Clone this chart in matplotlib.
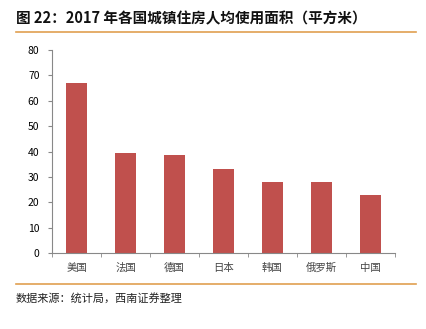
import numpy as np
import matplotlib.pyplot as plt
from matplotlib.lines import Line2D

plt.rcParams['font.family'] = ['Noto Sans CJK SC', 'DejaVu Sans']

countries = ['美国', '法国', '德国', '日本', '韩国', '俄罗斯', '中国']
area = [67, 39.5, 38.5, 33, 28, 27.8, 23]
yticks = [0, 10, 20, 30, 40, 50, 60, 70, 80]

fig = plt.figure(figsize=(4.26, 3.29), dpi=100)
ax = fig.add_axes([52 / 426, 1 - 253 / 329, 343 / 426, 203 / 329])

x = np.arange(len(countries))
ax.bar(x, area, width=0.42, color='#C0504D', zorder=2)

ax.set_xlim(-0.5, len(countries) - 0.5)
ax.set_ylim(0, 80)
ax.set_yticks(yticks)
ax.tick_params(axis='y', labelsize=7.5, length=3, color='#888888', pad=6)
ax.set_xticks(x)
ax.set_xticklabels(countries, fontsize=7.5, color='#444444')
ax.tick_params(axis='x', length=0, pad=7)
ax.set_xticks(np.arange(-0.5, len(countries)), minor=True)
ax.tick_params(axis='x', which='minor', length=3, color='#888888')

for s in ['top', 'right']:
    ax.spines[s].set_visible(False)
for s in ['left', 'bottom']:
    ax.spines[s].set_color('#888888')
    ax.spines[s].set_linewidth(0.8)

# header and footer
fig.text(16 / 426, 1 - 18 / 329, '图 22：2017 年各国城镇住房人均使用面积（平方米）',
         fontsize=10.5, fontweight='bold', va='center', color='#111111')
fig.add_artist(Line2D([16 / 426, 416 / 426], [1 - 32 / 329, 1 - 32 / 329],
                      color='#E0A050', lw=1.2))
fig.add_artist(Line2D([16 / 426, 416 / 426], [1 - 284 / 329, 1 - 284 / 329],
                      color='#E0A050', lw=1.2))
fig.text(16 / 426, 1 - 298 / 329, '数据来源：统计局，西南证券整理',
         fontsize=8, style='italic', va='center', color='#222222')

fig.savefig('out.png', dpi=100)
